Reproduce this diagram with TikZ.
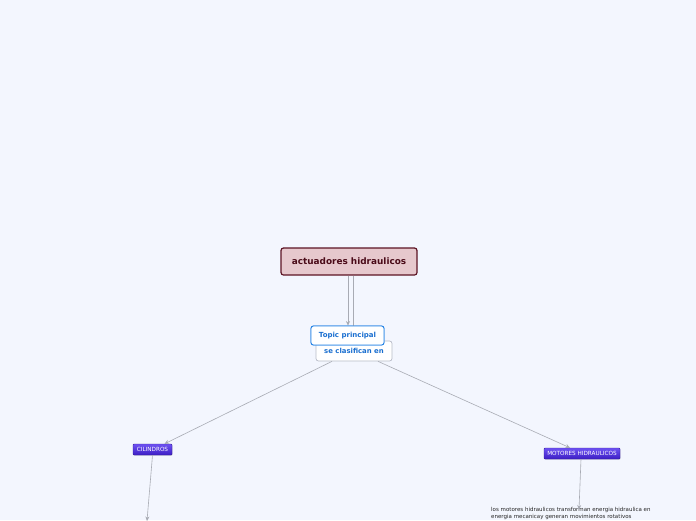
\documentclass[tikz,border=0pt]{standalone}
\usepackage{fontspec}
\setmainfont{DejaVu Sans}
\usetikzlibrary{arrows.meta,shadows}
\definecolor{bgc}{HTML}{F3F6FE}
\definecolor{maincol}{HTML}{E6C8CD}
\definecolor{mainborder}{HTML}{5C1424}
\definecolor{maintext}{HTML}{4A0A18}
\definecolor{bluetxt}{HTML}{1A6FD0}
\definecolor{blueborder}{HTML}{2A86E6}
\definecolor{grayborder}{HTML}{B8BCC8}
\definecolor{linec}{HTML}{A8ABB4}
\definecolor{purtop}{HTML}{6E52F2}
\definecolor{purbot}{HTML}{3C1EC4}
\tikzset{
  mainbox/.style={draw=mainborder,line width=1.2pt,fill=maincol,rounded corners=2.5pt,
    minimum width=136pt,minimum height=27pt,inner sep=0pt,text=maintext,
    font=\fontsize{8.9}{10}\selectfont\bfseries},
  topicbox/.style={draw=blueborder,line width=0.9pt,fill=white,rounded corners=2.5pt,
    minimum width=73pt,minimum height=19pt,inner sep=0pt,text=bluetxt,
    font=\fontsize{7}{8}\selectfont\bfseries},
  subbox/.style={draw=grayborder,line width=0.7pt,fill=white,rounded corners=2.5pt,
    minimum width=76pt,minimum height=20pt,inner sep=0pt,text=bluetxt,
    font=\fontsize{6.9}{8}\selectfont\bfseries},
  purbox/.style={draw=purbot!80!black,line width=0.4pt,top color=purtop,bottom color=purbot,
    rounded corners=1pt,inner sep=0pt,text=white,minimum height=11pt,
    drop shadow={shadow xshift=0.6pt,shadow yshift=-0.8pt,opacity=0.25},
    font=\fontsize{5.7}{6}\selectfont},
  conn/.style={draw=linec,line width=0.6pt,-{Stealth[length=4.5pt,width=4pt]}},
  plain/.style={draw=linec,line width=0.6pt},
  note/.style={inner sep=0pt,anchor=north west,align=left,text=black!85,
    font=\fontsize{5.5}{6.8}\selectfont}
}
\begin{document}
\begin{tikzpicture}[x=1pt,y=-1pt]
\fill[bgc] (0,0) rectangle (696,520);
\useasboundingbox (0,0) rectangle (696,520);
\node[mainbox] (main) at (349,261.5) {actuadores hidraulicos};
\node[subbox] (sub) at (354,351) {\raisebox{-3pt}{se clasifican en}};
\node[topicbox] (topic) at (347.5,335.5) {Topic principal};
\node[purbox,minimum width=39pt] (cil) at (152.5,449.5) {CILINDROS};
\node[purbox,minimum width=76pt] (mot) at (582,453.5) {MOTORES HIDRAULICOS};
\node[note] (txt) at (491,507.5) {los motores hidraulicos transforman energia hidraulica en\\energia mecanicay generan movimientos rotativos};
\coordinate (cilend) at (147,521);
\draw[plain] ([xshift=4pt]main.south) -- ([xshift=-1pt]sub.north);
\draw[conn] ([xshift=-1pt]main.south) -- ([xshift=0.5pt]topic.north);
\draw[conn] ([xshift=-22pt]sub.south) -- ([xshift=12pt]cil.north);
\draw[conn] ([xshift=24pt]sub.south) -- ([xshift=-12pt]mot.north);
\draw[conn] (cil.south) -- (cilend);
\draw[conn] ([xshift=-1pt]mot.south) -- ([xshift=88pt,yshift=-2pt]txt.north west);
\node[topicbox] at (topic) {Topic principal};
\end{tikzpicture}
\end{document}
